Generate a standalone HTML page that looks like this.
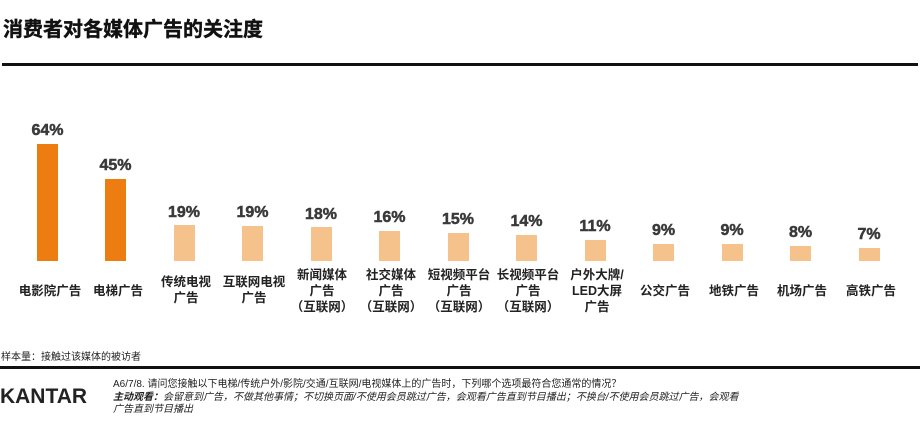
<!DOCTYPE html><html><head><meta charset="utf-8"><style>
body{margin:0;background:#fff;width:920px;height:429px;overflow:hidden;font-family:"Liberation Sans","Noto Sans CJK SC",sans-serif}
</style></head><body>
<svg width="920" height="429" xmlns="http://www.w3.org/2000/svg" style="position:absolute;left:0;top:0" font-family="Liberation Sans, Noto Sans CJK SC, sans-serif">
<text x="3" y="36" font-size="20" font-weight="bold" fill="#111" stroke="#111" stroke-width="0.4">消费者对各媒体广告的关注度</text>
<rect x="2" y="63" width="916" height="3" fill="#111"/>
<g id="bars" font-weight="bold" text-anchor="middle" fill="#3a3a3a" stroke="#3a3a3a" stroke-width="0.5">
<rect x="37" y="144" width="21" height="117" fill="#EE7D11" stroke="none"/><text x="47.5" y="135" font-size="16">64%</text>
<rect x="105" y="179" width="21" height="82" fill="#EE7D11" stroke="none"/><text x="115.5" y="170" font-size="16">45%</text>
<rect x="174" y="225" width="21" height="36" fill="#F6C28B" stroke="none"/><text x="184" y="217" font-size="16">19%</text>
<rect x="242" y="226" width="21" height="35" fill="#F6C28B" stroke="none"/><text x="252.5" y="217" font-size="16">19%</text>
<rect x="311" y="227" width="21" height="34" fill="#F6C28B" stroke="none"/><text x="321" y="219" font-size="16">18%</text>
<rect x="379" y="231" width="21" height="30" fill="#F6C28B" stroke="none"/><text x="389.5" y="222" font-size="16">16%</text>
<rect x="448" y="233" width="21" height="28" fill="#F6C28B" stroke="none"/><text x="458" y="224" font-size="16">15%</text>
<rect x="516" y="235" width="21" height="26" fill="#F6C28B" stroke="none"/><text x="526.5" y="226" font-size="16">14%</text>
<rect x="585" y="240" width="21" height="21" fill="#F6C28B" stroke="none"/><text x="595" y="231" font-size="16">11%</text>
<rect x="653" y="244" width="21" height="17" fill="#F6C28B" stroke="none"/><text x="663.5" y="235" font-size="16">9%</text>
<rect x="722" y="244" width="21" height="17" fill="#F6C28B" stroke="none"/><text x="732" y="235" font-size="16">9%</text>
<rect x="790" y="246" width="21" height="15" fill="#F6C28B" stroke="none"/><text x="800.5" y="237" font-size="16">8%</text>
<rect x="859" y="248" width="21" height="13" fill="#F6C28B" stroke="none"/><text x="869" y="239" font-size="16">7%</text>
</g>
<g font-size="12.5" font-weight="bold" fill="#222" text-anchor="middle">
<text x="50" y="295">电影院广告</text>
<text x="118" y="295">电梯广告</text>
<text x="186" y="286">传统电视</text><text x="186" y="302">广告</text>
<text x="254" y="286">互联网电视</text><text x="254" y="302">广告</text>
<text x="322" y="279">新闻媒体</text><text x="322" y="295">广告</text><text x="322" y="311">（互联网）</text>
<text x="391" y="279">社交媒体</text><text x="391" y="295">广告</text><text x="391" y="311">（互联网）</text>
<text x="459" y="279">短视频平台</text><text x="459" y="295">广告</text><text x="459" y="311">（互联网）</text>
<text x="528" y="279">长视频平台</text><text x="528" y="295">广告</text><text x="528" y="311">（互联网）</text>
<text x="597" y="279">户外大牌/</text><text x="597" y="295">LED大屏</text><text x="597" y="311">广告</text>
<text x="665" y="295">公交广告</text>
<text x="734" y="295">地铁广告</text>
<text x="802" y="295">机场广告</text>
<text x="871" y="295">高铁广告</text>
</g>
<text x="1" y="360" font-size="10" fill="#222">样本量：接触过该媒体的被访者</text>
<rect x="0" y="366" width="920" height="3" fill="#111"/>
<text x="0" y="403" font-size="21" font-weight="bold" fill="#222" textLength="87" lengthAdjust="spacingAndGlyphs">KANTAR</text>
<g font-size="10" fill="#222">
<text x="113" y="387">A6/7/8. 请问您接触以下电梯/传统户外/影院/交通/互联网/电视媒体上的广告时，下列哪个选项最符合您通常的情况？</text>
<text x="113" y="400" font-style="italic"><tspan font-weight="bold">主动观看：</tspan>会留意到广告，不做其他事情；不切换页面/不使用会员跳过广告，会观看广告直到节目播出；不换台/不使用会员跳过广告，会观看</text>
<text x="113" y="412" font-style="italic">广告直到节目播出</text>
</g>
</svg>
</body></html>
